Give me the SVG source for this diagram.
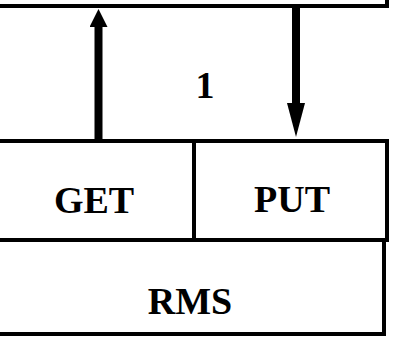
<svg xmlns="http://www.w3.org/2000/svg" width="395" height="339" viewBox="0 0 395 339">
<style>
.box{fill:none;stroke:#000;stroke-width:4}
.lbl{font-family:"Liberation Serif","Times New Roman",serif;font-weight:bold;font-size:38px;fill:#000;text-anchor:middle}
.shaft{stroke:#000;stroke-width:8;fill:none}
</style>
<defs>
<marker id="headShort" markerUnits="userSpaceOnUse" viewBox="0 0 18 18" markerWidth="18" markerHeight="18" refX="0" refY="9" orient="auto">
<path d="M0,0 L18,9 L0,18 z" fill="#000"/>
</marker>
<marker id="headLong" markerUnits="userSpaceOnUse" viewBox="0 0 34 18" markerWidth="34" markerHeight="18" refX="0" refY="9" orient="auto">
<path d="M0,0 L34,9 L0,18 z" fill="#000"/>
</marker>
</defs>
<rect width="395" height="339" fill="#fff"/>
<g id="top-box">
<rect class="box" x="-10" y="-20" width="397" height="26"/>
</g>
<g id="get-put-layer">
<rect class="box" x="-10" y="141" width="397" height="99"/>
<line x1="194" y1="141" x2="194" y2="240" stroke="#000" stroke-width="4"/>
</g>
<g id="get">
<text class="lbl" x="94" y="213">GET</text>
</g>
<g id="put">
<text class="lbl" x="292" y="212">PUT</text>
</g>
<g id="rms">
<rect class="box" x="-10" y="240" width="394" height="94"/>
<text class="lbl" x="190" y="314">RMS</text>
</g>
<g id="label-1">
<text class="lbl" x="205" y="98">1</text>
</g>
<g id="connectors">
<line class="shaft" x1="98.5" y1="140" x2="98.5" y2="27" marker-end="url(#headShort)"/>
<line class="shaft" x1="296" y1="7" x2="296" y2="103" marker-end="url(#headLong)"/>
</g>
</svg>
